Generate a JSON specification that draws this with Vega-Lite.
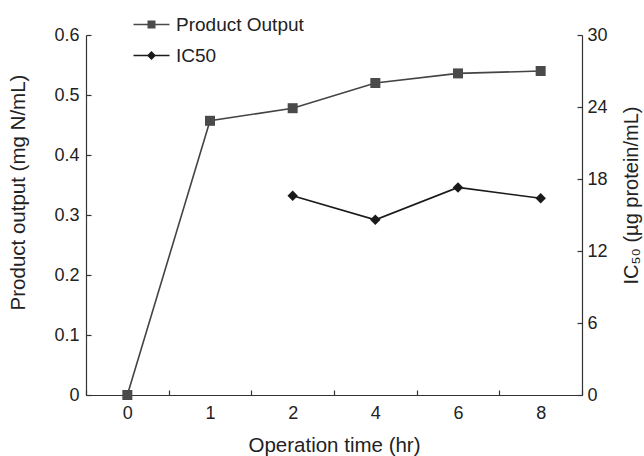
{
  "$schema": "https://vega.github.io/schema/vega-lite/v6.json",
  "autosize": {"type": "none"},
  "padding": {"left": 86, "top": 35, "right": 62, "bottom": 61},
  "width": 496,
  "height": 360,
  "background": "white",
  "config": {
    "view": {"stroke": null},
    "font": "Liberation Sans",
    "axis": {
      "labelFont": "Liberation Sans",
      "titleFont": "Liberation Sans",
      "labelFontSize": 18,
      "titleFontSize": 20.5,
      "titleFontWeight": "normal",
      "labelColor": "#222",
      "titleColor": "#222",
      "domainColor": "#333",
      "tickColor": "#333",
      "domainWidth": 1.2,
      "tickWidth": 1.2,
      "ticks": true,
      "grid": false
    }
  },
  "data": {
    "values": [
      {"time": 0, "series": "Product Output", "value": 0},
      {"time": 1, "series": "Product Output", "value": 0.457},
      {"time": 2, "series": "Product Output", "value": 0.478},
      {"time": 4, "series": "Product Output", "value": 0.52},
      {"time": 6, "series": "Product Output", "value": 0.536},
      {"time": 8, "series": "Product Output", "value": 0.54},
      {"time": 2, "series": "IC50", "value": 16.6},
      {"time": 4, "series": "IC50", "value": 14.6},
      {"time": 6, "series": "IC50", "value": 17.3},
      {"time": 8, "series": "IC50", "value": 16.4}
    ]
  },
  "encoding": {
    "x": {
      "field": "time",
      "type": "ordinal",
      "scale": {"type": "band", "paddingInner": 0, "paddingOuter": 0, "domain": [0, 1, 2, 4, 6, 8]},
      "axis": {
        "title": "Operation time (hr)",
        "labelAngle": 0,
        "ticks": true,
        "tickBand": "extent",
        "tickSize": -5,
        "labelPadding": 14,
        "titlePadding": 13
      }
    }
  },
  "layer": [
    {
      "transform": [{"filter": "datum.series === 'Product Output'"}],
      "encoding": {
        "y": {
          "field": "value",
          "type": "quantitative",
          "scale": {"domain": [0, 0.6], "nice": false, "zero": true},
          "axis": {
            "title": "Product output (mg N/mL)",
            "values": [0, 0.1, 0.2, 0.3, 0.4, 0.5, 0.6],
            "labelExpr": "datum.value === 0 ? '0' : format(datum.value, '.1f')",
            "ticks": true,
            "tickSize": -5,
            "labelPadding": 12,
            "titlePadding": 25,
            "titleY": 157
          }
        }
      },
      "layer": [
        {"mark": {"type": "line", "color": "#444", "strokeWidth": 1.6}},
        {"mark": {"type": "point", "shape": "square", "filled": true, "size": 100, "color": "#4a4a4a", "opacity": 1}},
        {
          "data": {
            "values": [
              {"time": 0, "series": "Product Output", "value": 0},
              {"time": 0, "series": "IC50", "value": 0}
            ]
          },
          "transform": [],
          "mark": {"type": "point", "filled": true, "opacity": 0},
          "encoding": {
            "y": {"field": "value", "type": "quantitative"},
            "color": {
              "field": "series",
              "type": "nominal",
              "scale": {"domain": ["Product Output", "IC50"], "range": ["#4a4a4a", "#1a1a1a"]},
              "legend": {
                "title": null,
                "orient": "none",
                "legendX": 56,
                "legendY": -20,
                "symbolSize": 100,
                "symbolOpacity": 1,
                "symbolStrokeWidth": 0,
                "labelOffset": 15,
                "rowPadding": 11,
                "labelFont": "Liberation Sans",
                "labelFontSize": 19,
                "labelColor": "#222"
              }
            },
            "shape": {
              "field": "series",
              "type": "nominal",
              "scale": {
                "domain": ["Product Output", "IC50"],
                "range": [
                  "M-3.6,-0.15H3.6V0.15H-3.6Z M-0.8,-0.8H0.8V0.8H-0.8Z",
                  "M-3.6,-0.15H3.6V0.15H-3.6Z M-0.9,0L0,-0.9L0.9,0L0,0.9Z"
                ]
              },
              "legend": {
                "title": null,
                "orient": "none",
                "legendX": 56,
                "legendY": -20,
                "symbolSize": 100,
                "symbolOpacity": 1,
                "symbolStrokeWidth": 0,
                "labelOffset": 15,
                "rowPadding": 11,
                "labelFont": "Liberation Sans",
                "labelFontSize": 19,
                "labelColor": "#222"
              }
            }
          }
        }
      ]
    },
    {
      "transform": [{"filter": "datum.series === 'IC50'"}],
      "encoding": {
        "y": {
          "field": "value",
          "type": "quantitative",
          "scale": {"domain": [0, 30], "nice": false},
          "axis": {
            "title": "IC₅₀ (µg protein/mL)",
            "orient": "right",
            "values": [0, 6, 12, 18, 24, 30],
            "ticks": true,
            "tickSize": -5,
            "labelPadding": 10,
            "titleAngle": 270,
            "titleFontSize": 20,
            "titlePadding": 34,
            "titleY": 160
          }
        }
      },
      "layer": [
        {"mark": {"type": "line", "color": "#1a1a1a", "strokeWidth": 1.6}},
        {"mark": {"type": "point", "shape": "diamond", "filled": true, "size": 110, "color": "#1a1a1a", "opacity": 1}}
      ]
    }
  ],
  "resolve": {"scale": {"y": "independent"}, "axis": {"y": "independent"}}
}
